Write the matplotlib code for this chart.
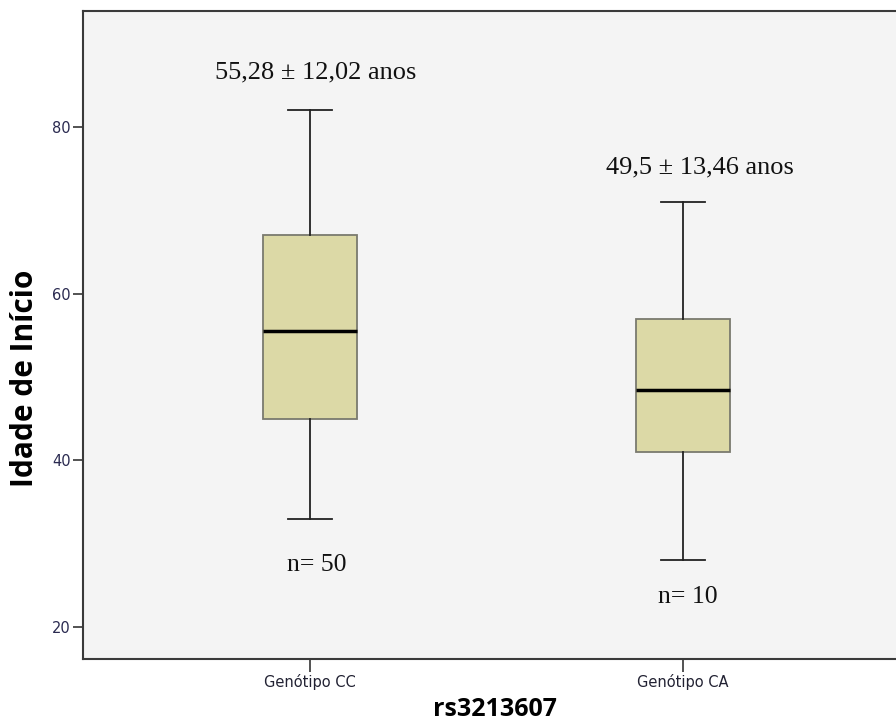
import matplotlib
matplotlib.use("Agg")
import matplotlib.pyplot as plt

categories = ["Genótipo CC", "Genótipo CA"]
whisker_low = [33, 28]
q1 = [45, 41]
medians = [55.5, 48.5]
q3 = [67, 57]
whisker_high = [82, 71]
mean_labels = ["55,28 ± 12,02 anos", "49,5 ± 13,46 anos"]
mean_label_y = [86.6, 75.1]
mean_label_dx = [0.015, 0.045]
n_labels = ["n= 50", "n= 10"]
n_label_y = [27.4, 23.6]
n_label_dx = [0.018, 0.013]
yticks = [20, 40, 60, 80]

fig = plt.figure(figsize=(8.96, 7.22), dpi=100)
ax = fig.add_axes([83/896, 1 - 659/722, 1 - 83/896, (659 - 11)/722])
ax.set_facecolor("#f4f4f4")

stats = []
for i in range(len(categories)):
    stats.append(dict(med=medians[i], q1=q1[i], q3=q3[i],
                      whislo=whisker_low[i], whishi=whisker_high[i],
                      fliers=[], label=categories[i]))

positions = list(range(1, len(categories) + 1))
bp = ax.bxp(stats, positions=positions, widths=0.25, patch_artist=True,
            showfliers=False,
            boxprops=dict(facecolor="#dcd9a6", edgecolor="#7a7a6e", linewidth=1.3),
            medianprops=dict(color="black", linewidth=2.5),
            whiskerprops=dict(color="#222222", linewidth=1.3),
            capprops=dict(color="#222222", linewidth=1.3),
            capwidths=0.12)

serif = ["Liberation Serif", "DejaVu Serif"]
for i, p in enumerate(positions):
    ax.text(p + mean_label_dx[i], mean_label_y[i], mean_labels[i], ha="center", va="center",
            fontsize=19, family=serif, color="#111111")
    ax.text(p + n_label_dx[i], n_label_y[i], n_labels[i], ha="center", va="center",
            fontsize=18.5, family=serif, color="#111111")

ax.set_xlim(1 - 227/373, 2 + 213/373)
ax.set_ylim(20 - 32/(500/60), 80 + 116/(500/60))
ax.set_yticks(yticks)
ax.set_yticklabels([str(t) for t in yticks], fontsize=10.5, color="#2a2a50",
                   family="DejaVu Sans")
ax.set_xticks(positions)
ax.set_xticklabels(categories, fontsize=10.5, color="#222233", family="DejaVu Sans")
ax.tick_params(axis="y", length=7, width=1.3, color="#444444", pad=2)
ax.tick_params(axis="x", length=9, width=1.3, color="#444444", pad=2)

for s in ["left", "bottom", "top"]:
    ax.spines[s].set_color("#3a3a3a")
    ax.spines[s].set_linewidth(1.5)
ax.spines["right"].set_visible(False)

fig.text(25/896, 1 - 378/722, "Idade de Início", rotation=90, ha="center", va="center",
         fontsize=21.5, fontweight="bold", family=["Open Sans", "DejaVu Sans"])
fig.text(495/896, 1 - 710/722, "rs3213607", ha="center", va="center",
         fontsize=18, fontweight="bold", family=["Open Sans", "DejaVu Sans"])

fig.savefig("out.png", dpi=100)
